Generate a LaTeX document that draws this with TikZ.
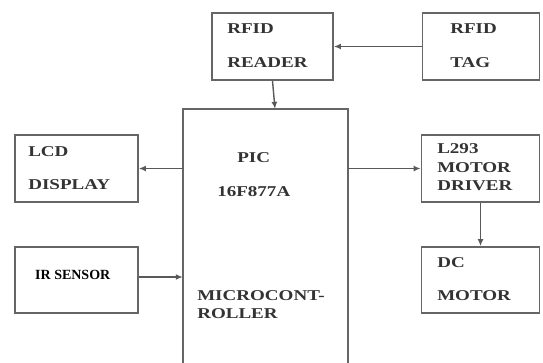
\documentclass[tikz,border=0pt]{standalone}
\usepackage{fontspec}
\setmainfont{Liberation Serif}
\usetikzlibrary{arrows.meta,calc}
\tikzset{
  blk/.style={draw=black!60, line width=1.8pt, fill=white, inner sep=0pt},
  arr/.style={draw=black!65, line width=1.4pt, -{Latex[length=7pt,width=6pt]}},
  lbl/.style={anchor=base west, inner sep=0pt, text=black!80, font=\fontsize{15}{18}\selectfont\bfseries, xscale=1.27, transform shape},
  lbls/.style={anchor=base west, inner sep=0pt, text=black, font=\fontsize{14}{17}\selectfont\bfseries}
}
\begin{document}
\begin{tikzpicture}[x=1pt,y=-1pt]
\useasboundingbox (0,0) rectangle (543,362);
\clip (0,0) rectangle (543,362);
\fill[white] (0,0) rectangle (543,362);
% boxes
\node[blk, minimum width=121pt, minimum height=67pt] (reader) at (272.5,46.5) {};
\node[blk, minimum width=117pt, minimum height=67pt] (tag) at (481,46.5) {};
\node[blk, minimum width=123pt, minimum height=67pt] (lcd) at (76.5,168.5) {};
\node[blk, minimum width=123pt, minimum height=66pt] (ir) at (76.5,280) {};
\node[blk, minimum width=118pt, minimum height=67pt] (drv) at (480.5,168.5) {};
\node[blk, minimum width=118pt, minimum height=66pt] (dc) at (480.5,280) {};
\node[minimum width=165pt, minimum height=270pt, inner sep=0pt] (pic) at (265.5,244) {};
\draw[draw=black!60, line width=1.8pt] (pic.south west) -- (pic.north west) -- (pic.north east) -- (pic.south east);
% texts
\node[lbl] (t1) at (227,33) {RFID};
\node[lbl] (t2) at (227,67) {READER};
\node[lbl] (t3) at (450,33) {RFID};
\node[lbl] (t4) at (450,67) {TAG};
\node[lbl] (t5) at (28,156) {LCD};
\node[lbl] (t6) at (28,189) {DISPLAY};
\node[lbls] (t7) at (35,279) {IR SENSOR};
\node[lbl] (t8) at (237,162) {PIC};
\node[lbl] (t9) at (217,196) {16F877A};
\node[lbl] (t10) at (197,300) {MICROCONT-};
\node[lbl] (t11) at (197,318) {ROLLER};
\node[lbl] (t12) at (437,153) {L293};
\node[lbl] (t13) at (437,172) {MOTOR};
\node[lbl] (t14) at (437,190) {DRIVER};
\node[lbl] (t15) at (437,267) {DC};
\node[lbl] (t16) at (437,300) {MOTOR};
% connectors
\coordinate (irout) at ([yshift=3pt]ir.east);
\coordinate (rdin) at ([xshift=2.5pt]reader.south);
\draw[arr] (tag.west) -- (reader.east);
\draw[arr] (reader.south) -- (rdin |- pic.north);
\draw[arr] (pic.west |- lcd.east) -- (lcd.east);
\draw[arr] (irout) -- (pic.west |- irout);
\draw[arr] (pic.east |- drv.west) -- (drv.west);
\draw[arr] (drv.south) -- (dc.north);
\end{tikzpicture}
\end{document}
